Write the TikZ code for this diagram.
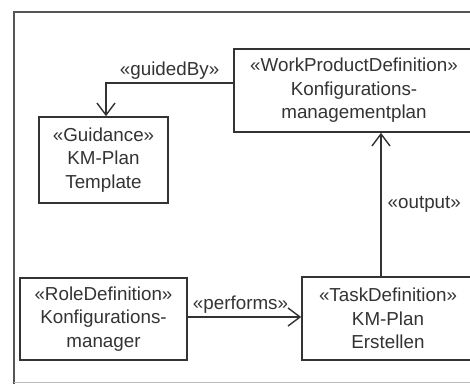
\documentclass[tikz,border=0pt]{standalone}
\usepackage{fontspec}
\setmainfont{Liberation Sans}
\usetikzlibrary{arrows.meta}
\definecolor{ink}{HTML}{333333}
\definecolor{framecol}{HTML}{555555}
\definecolor{framelight}{HTML}{BBBBBB}
\begin{document}
\begin{tikzpicture}[x=1pt,y=-1pt,
  elem/.style={draw=ink, line width=1.6pt, text=ink, align=center, inner sep=0pt,
    font=\fontsize{18.8}{23.5}\selectfont},
  conn/.style={draw=ink, line width=1.4pt},
  opentip/.style={-{Straight Barb[length=12pt,width=18pt,line width=1.4pt]}},
  lbl/.style={text=ink, inner sep=0pt, font=\fontsize{18.8}{23.5}\selectfont}]
\useasboundingbox (0,0) rectangle (470,383);
\clip (0,0) rectangle (470,383);

% diagram frame
\draw[framecol, line width=1.8pt] (14,395) -- (14,12) -- (490,12);
\draw[framelight, line width=1pt] (14,382) -- (490,382);

% elements
\node[elem, minimum width=240, minimum height=83] (wp) at (354,90.5)
  {«WorkProductDefinition»\\Konfigurations-\\managementplan};
\node[elem, minimum width=129, minimum height=86] (guid) at (103.5,160)
  {«Guidance»\\KM-Plan\\Template};
\node[elem, minimum width=167, minimum height=82] (role) at (103.5,319)
  {«RoleDefinition»\\Konfigurations-\\manager};
\node[elem, minimum width=172, minimum height=83] (task) at (388,318.5)
  {«TaskDefinition»\\KM-Plan\\Erstellen};

% relations
\draw[conn, opentip] ([yshift=7.5pt]wp.west) -| ([xshift=2.5pt]guid.north)
  node[lbl, pos=0.25, yshift=12pt] {«guidedBy»};
\draw[conn, opentip] ([xshift=-7pt]task.north) -- ([xshift=-7pt]task.north |- wp.south)
  node[lbl, midway, anchor=west, xshift=6pt] {«output»};
\draw[conn, opentip] ([yshift=2pt]role.east) -- ([yshift=2pt]role.east -| task.west)
  node[lbl, midway, xshift=-4pt, yshift=12pt] {«performs»};
\end{tikzpicture}
\end{document}
